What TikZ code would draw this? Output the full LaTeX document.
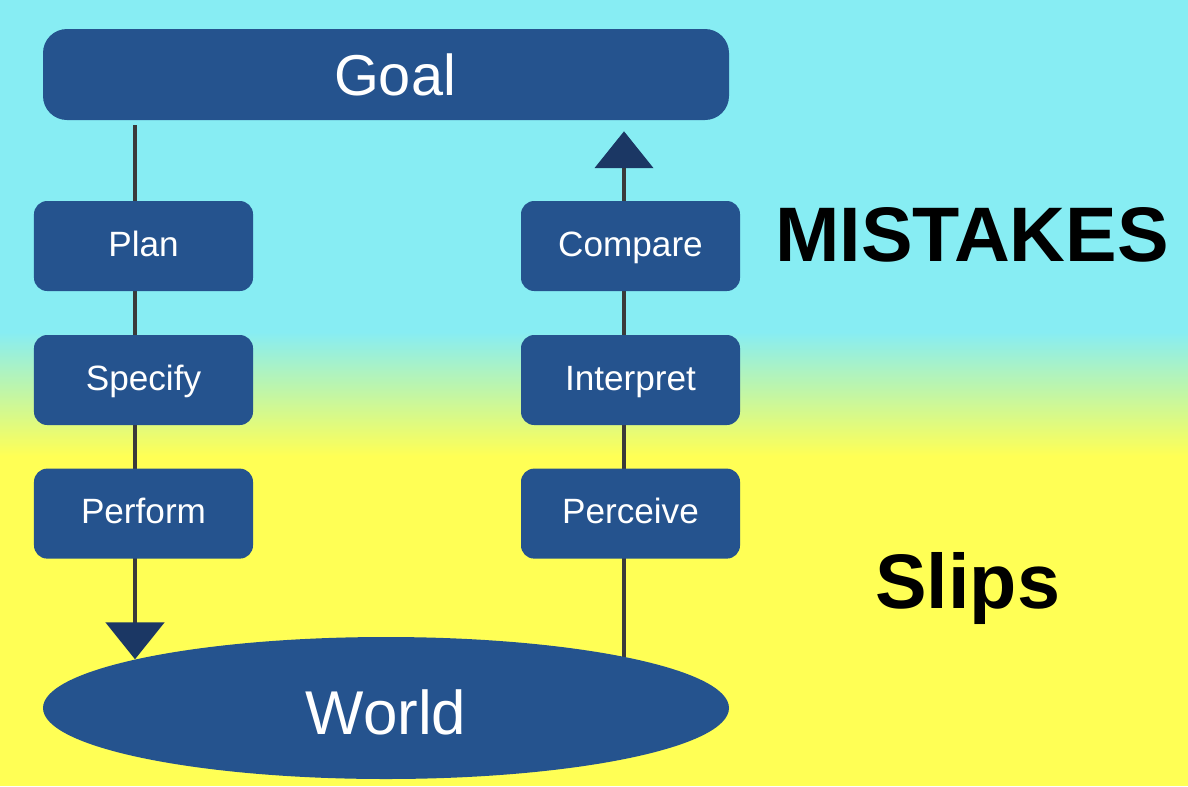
\documentclass[tikz,border=0pt]{standalone}
\usepackage{fontspec}
\setmainfont{Liberation Sans}
\usetikzlibrary{arrows.meta,backgrounds,shapes.geometric}
\definecolor{skycyan}{RGB}{135,237,243}
\definecolor{lemon}{RGB}{255,255,85}
\definecolor{stageblue}{RGB}{37,83,142}
\definecolor{headnavy}{RGB}{27,55,100}
\definecolor{wiregray}{RGB}{58,58,58}
\tikzset{
    action cycle/.style = {>={Triangle[width=1.45cm, length=0.92cm, color=headnavy]}},
    wire/.style         = {draw=wiregray, line width=0.11cm},
    stage/.style        = {fill=stageblue, text=white, rounded corners=0.33cm,
                           minimum width=5.475cm, minimum height=2.25cm,
                           inner sep=0pt, text height=0.5cm, text depth=0pt,
                           font=\fontsize{25}{30}\selectfont},
    goalbar/.style      = {stage, rounded corners=0.6cm, minimum width=17.15cm,
                           minimum height=2.275cm, text height=1.04cm,
                           font=\fontsize{41}{48}\selectfont},
    worldblob/.style    = {ellipse, fill=stageblue, text=white, inner sep=0pt,
                           minimum width=17.15cm, minimum height=3.55cm,
                           text height=1.34cm, text depth=0pt,
                           font=\fontsize{44}{52}\selectfont},
    errlabel/.style     = {font=\bfseries\fontsize{55}{64}\selectfont}
}
\def\downaxis{3.375}
\def\upaxis{15.6}

\begin{document}
\begin{tikzpicture}[action cycle]
\useasboundingbox (0,0) rectangle (29.7,-19.65);

\node[goalbar] (goal) at (9.65,-1.8625) {\hspace*{0.45cm}Goal};
\node[worldblob] (world) at (9.65,-17.7) {World};

% Execution stages on the left, evaluation stages on the right.
\foreach \name/\label/\x/\y in {
    plan/Plan/3.5875/-6.15, specify/Specify/3.5875/-9.5,
    perform/Perform/3.5875/-12.84, compare/Compare/15.7625/-6.15,
    interpret/Interpret/15.7625/-9.5, perceive/Perceive/15.7625/-12.84} {
    \node[stage] (\name) at (\x,\y) {\label};
}

\node[errlabel] (mistakes) at (24.3,-5.875) {MISTAKES};
\node[errlabel] (slips) at (24.19,-14.7) {Slips};

\coordinate (down-axis) at (\downaxis,0);
\coordinate (up-axis) at (\upaxis,0);

\begin{scope}[on background layer]
    \fill[skycyan] (0,0) rectangle (29.7,-8.3);
    \shade[top color=skycyan, bottom color=lemon] (0,-8.3) rectangle (29.7,-11.4);
    \fill[lemon] (0,-11.4) rectangle (29.7,-19.65);
    \draw[->, wire, shorten <=0.125cm] (goal.south -| down-axis) -- (down-axis |- world.169);
    \draw[->, wire, shorten >=0.275cm] (up-axis |- world.12) -- (goal.south -| up-axis);
\end{scope}
\end{tikzpicture}
\end{document}
